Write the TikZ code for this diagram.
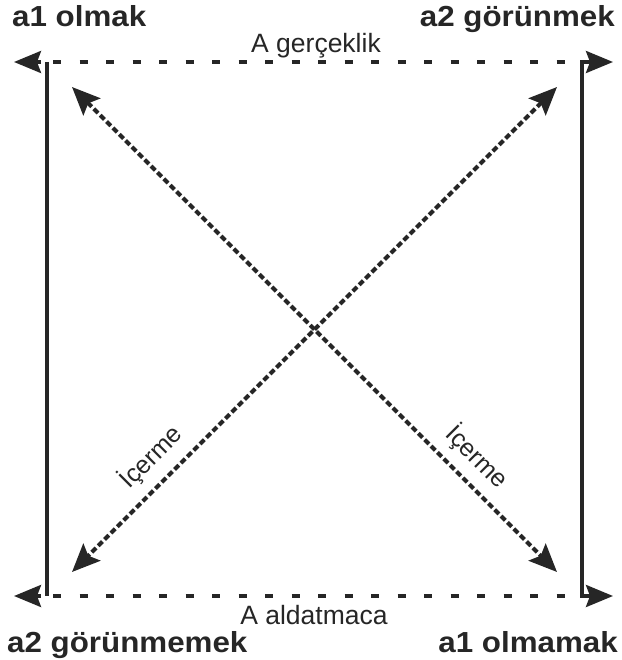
\documentclass[tikz,border=0pt]{standalone}
\usepackage{fontspec}
\setmainfont{Liberation Sans}
\newfontfamily\boldlab[FakeStretch=1.08]{Liberation Sans}
\usetikzlibrary{arrows.meta}
\definecolor{ink}{HTML}{262626}
\begin{document}
\begin{tikzpicture}[x=1pt,y=-1pt,
  corner/.style={font=\boldlab\bfseries\fontsize{29}{31}\selectfont, text=ink, inner sep=0pt},
  rel/.style={font=\fontsize{26.5}{28}\selectfont, text=ink, inner sep=0pt},
  imp/.style={font=\fontsize{25}{27}\selectfont, text=ink, inner sep=0pt},
  solidline/.style={draw=ink, line width=3.5pt},
  dashline/.style={draw=ink, line width=3.5pt, dash pattern=on 8pt off 18.5pt, dash phase=20.5pt},
  diag/.style={draw=ink, line width=4pt, dash pattern=on 6pt off 3pt},
  onetip/.style={-{Stealth[length=27pt,width=22pt,inset=4pt]}},
  twotips/.style={{Stealth[length=27pt,width=22pt,inset=4pt]}-{Stealth[length=27pt,width=22pt,inset=4pt]}},
  diagtips/.style={{Stealth[length=28pt,width=24pt,inset=5pt]}-{Stealth[length=28pt,width=24pt,inset=5pt]}},
]
\useasboundingbox (0,0) rectangle (621,660);
% corners and tips
\coordinate (TL) at (47,62);
\coordinate (TR) at (582,62);
\coordinate (BL) at (47,596);
\coordinate (BR) at (582,596);
\coordinate (TLa) at (41,62);
\coordinate (BLa) at (41,596);
\coordinate (TLt) at (14,62);
\coordinate (TRt) at (613,62);
\coordinate (BLt) at (14,596);
\coordinate (BRt) at (613,596);
\coordinate (D1a) at (72,87);
\coordinate (D1b) at (557,572);
\coordinate (D2a) at (557,87);
\coordinate (D2b) at (72,572);
% square sides
\draw[solidline] (TL) -- (BL);
\draw[solidline, onetip] (TLa) -- (TLt);
\draw[solidline, onetip] (BLa) -- (BLt);
\draw[solidline, twotips] (TRt) -- (TR) -- (BR) -- (BRt);
\draw[dashline] (TL) -- (TR);
\draw[dashline] (BL) -- (BR);
% diagonals
\draw[diag, diagtips] (D1a) -- (D1b);
\draw[diag, diagtips] (D2a) -- (D2b);
% labels
\node[corner, anchor=base west] (a1o) at (12,27) {a1 olmak};
\node[corner, anchor=base east] (a2g) at (615,27) {a2 görünmek};
\node[corner, anchor=base west] (a2gm) at (7,652) {a2 görünmemek};
\node[corner, anchor=base east] (a1om) at (618,652) {a1 olmamak};
\node[rel, anchor=base] (real) at (316,53) {A gerçeklik};
\node[rel, anchor=base] (dec) at (314,624) {A aldatmaca};
\node[imp, rotate=45] (impl) at (151,457) {İçerme};
\node[imp, rotate=-45] (impr) at (477,457) {İçerme};
\end{tikzpicture}
\end{document}
